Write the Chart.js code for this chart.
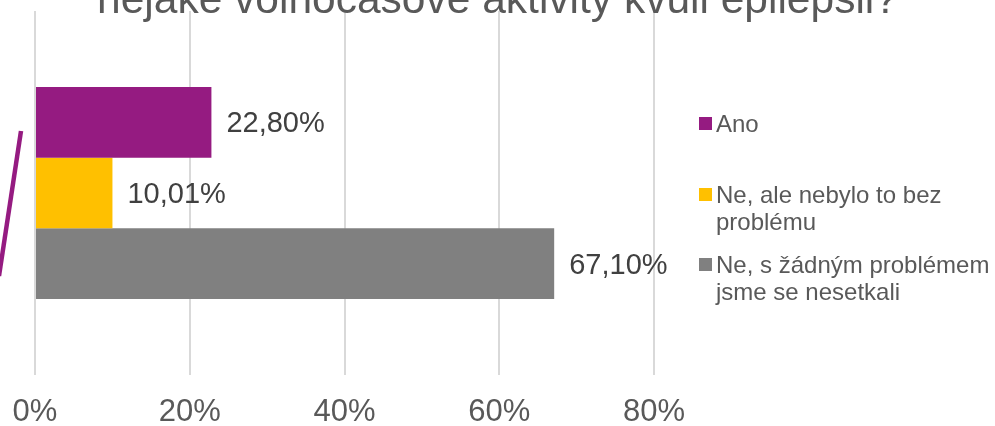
<!DOCTYPE html>
<html>
<head>
<meta charset="utf-8">
<script src="https://cdn.jsdelivr.net/npm/chart.js@4.4.1/dist/chart.umd.min.js"></script>
<style>
  html, body { margin: 0; padding: 0; background: #ffffff; }
  #wrap { position: relative; width: 995px; height: 426px; overflow: hidden; background: #ffffff; }
  #chart { position: absolute; left: 0; top: 0; }
  #title { position: absolute; left: 0; width: 995px; top: -22px; text-align: center;
           font-family: "Liberation Sans", Arial, sans-serif; font-size: 42.5px; line-height: 42px;
           color: #595959; white-space: nowrap; }
  #legend { position: absolute; left: 699px; top: 0; width: 296px; }
  .item { position: absolute; left: 0; width: 296px; font-family: "Liberation Sans", Arial, sans-serif;
          font-size: 24px; line-height: 27px; color: #595959; }
  .sw { position: absolute; left: 0; top: 7px; width: 13px; height: 13px; }
  .tx { margin-left: 17px; width: 278px; }
</style>
</head>
<body>
<div id="wrap">
  <canvas id="chart" width="995" height="426"></canvas>
  <div id="title"></div>
  <div id="legend"></div>
</div>
<script>
const titleText = "nějaké volnočasové aktivity kvůli epilepsii?";
const categories = [""];
const seriesLabels = ["Ano", "Ne, ale nebylo to bez problému", "Ne, s žádným problémem jsme se nesetkali"];
const seriesValues = [22.80, 10.01, 67.10];
const seriesColors = ["#951B81", "#FFC000", "#808080"];
const tickValues = [0, 20, 40, 60, 80];

document.getElementById('title').textContent = titleText;

const datasets = seriesLabels.map((lab, i) => ({
  label: lab,
  data: [seriesValues[i]],
  backgroundColor: seriesColors[i],
  borderWidth: 0,
  barPercentage: 1.0,
  categoryPercentage: 0.582
}));

const valueLabels = {
  id: 'valueLabels',
  afterDatasetsDraw(chart) {
    const ctx = chart.ctx;
    ctx.save();
    ctx.font = '29px "Liberation Sans", Arial, sans-serif';
    ctx.fillStyle = '#404040';
    ctx.textAlign = 'left';
    ctx.textBaseline = 'middle';
    chart.data.datasets.forEach((ds, i) => {
      const bar = chart.getDatasetMeta(i).data[0];
      const txt = ds.data[0].toFixed(2).replace('.', ',') + '%';
      ctx.fillText(txt, bar.x + 15, bar.y + 2);
    });
    ctx.restore();
  }
};

const decoration = {
  id: 'decoration',
  afterDraw(chart) {
    const ctx = chart.ctx;
    ctx.save();
    ctx.strokeStyle = '#951B81';
    ctx.lineWidth = 4.5;
    ctx.beginPath();
    ctx.moveTo(21, 131);
    ctx.lineTo(-1, 276);
    ctx.stroke();
    ctx.restore();
  }
};

const htmlLegend = {
  id: 'htmlLegend',
  afterRender(chart) {
    const box = document.getElementById('legend');
    if (box.childElementCount) return;
    chart.data.datasets.forEach((ds, i) => {
      const bar = chart.getDatasetMeta(i).data[0];
      const it = document.createElement('div');
      it.className = 'item';
      it.style.top = (bar.y - 12.5) + 'px';
      const sw = document.createElement('div');
      sw.className = 'sw';
      sw.style.background = ds.backgroundColor;
      const tx = document.createElement('div');
      tx.className = 'tx';
      tx.textContent = ds.label;
      it.appendChild(sw);
      it.appendChild(tx);
      box.appendChild(it);
    });
  }
};

new Chart(document.getElementById('chart'), {
  type: 'bar',
  data: { labels: categories, datasets },
  options: {
    indexAxis: 'y',
    responsive: false,
    animation: false,
    devicePixelRatio: 1,
    layout: { padding: { top: 11, left: 35, right: 341, bottom: 0 } },
    plugins: { legend: { display: false }, title: { display: false }, tooltip: { enabled: false } },
    scales: {
      x: {
        min: tickValues[0],
        max: tickValues[tickValues.length - 1],
        afterBuildTicks(axis) { axis.ticks = tickValues.map(v => ({ value: v })); },
        afterFit(axis) { axis.height = 51; },
        grid: { color: '#d9d9d9', lineWidth: 2, drawTicks: false, tickLength: 0 },
        border: { display: false },
        ticks: {
          padding: 0,
          color: '#595959',
          font: { family: '"Liberation Sans", Arial, sans-serif', size: 31, lineHeight: 2.42 },
          callback: v => v + '%',
          maxRotation: 0
        }
      },
      y: { display: false, grid: { display: false } }
    }
  },
  plugins: [valueLabels, decoration, htmlLegend]
});
</script>
</body>
</html>
